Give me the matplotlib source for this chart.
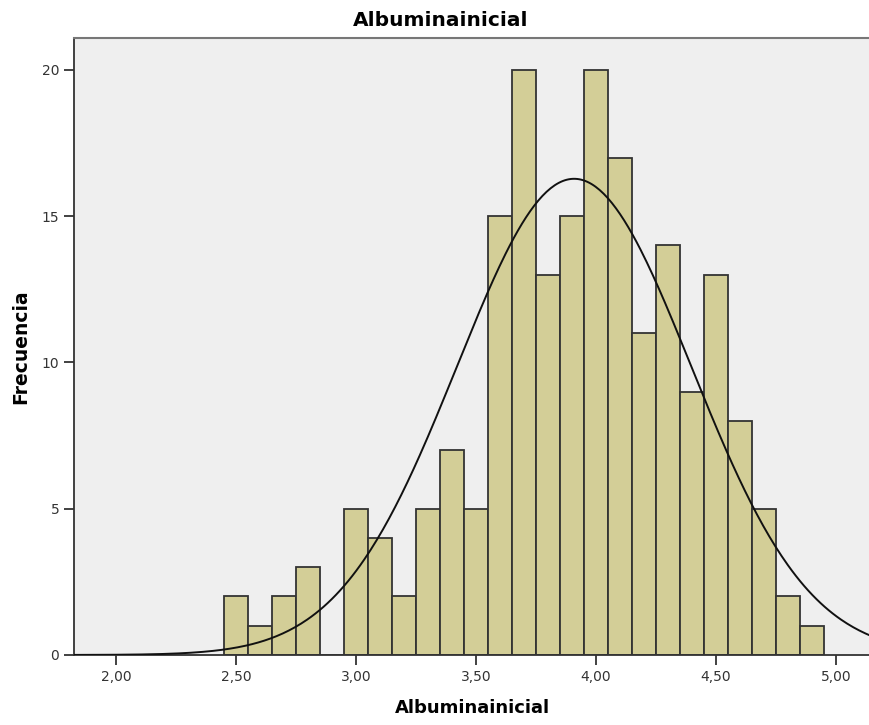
import numpy as np
import matplotlib.pyplot as plt
from matplotlib.ticker import FuncFormatter

# bin centres (width 0.1) and counts
bin_centers = [2.5, 2.6, 2.7, 2.8, 2.9, 3.0, 3.1, 3.2, 3.3, 3.4, 3.5, 3.6, 3.7,
               3.8, 3.9, 4.0, 4.1, 4.2, 4.3, 4.4, 4.5, 4.6, 4.7, 4.8, 4.9]
counts = [2, 1, 2, 3, 0, 5, 4, 2, 5, 7, 5, 15, 20,
          13, 15, 20, 17, 11, 14, 9, 13, 8, 5, 2, 1]
bin_width = 0.1
x_ticks = [2.0, 2.5, 3.0, 3.5, 4.0, 4.5, 5.0]
y_ticks = [0, 5, 10, 15, 20]

centers = np.array(bin_centers)
n = np.array(counts)
total = n.sum()
mean = (centers * n).sum() / total
sd = np.sqrt((n * (centers - mean) ** 2).sum() / (total - 1))

fig = plt.figure(figsize=(8.7, 7.25), dpi=100)
ax = fig.add_axes([0.085, 0.0966, 0.915, 0.851])
ax.set_facecolor('#efefef')

ax.bar(centers, n, width=bin_width, color='#d3ce97', edgecolor='#333333',
       linewidth=1.3, zorder=2)

# normal curve scaled to the histogram
xs = np.linspace(1.8, 5.2, 400)
curve = total * bin_width / (sd * np.sqrt(2 * np.pi)) * np.exp(-0.5 * ((xs - mean) / sd) ** 2)
ax.plot(xs, curve, color='#111111', linewidth=1.4, zorder=3)

ax.set_xlim(1.825, 5.142)
ax.set_ylim(0, 21.09)
ax.set_xticks(x_ticks)
ax.set_yticks(y_ticks)
ax.xaxis.set_major_formatter(FuncFormatter(lambda v, p: f'{v:.2f}'.replace('.', ',')))
ax.tick_params(axis='both', direction='out', length=7, width=1.3, color='#333333',
               labelsize=10, labelcolor='#333333')

for side in ['left', 'bottom']:
    ax.spines[side].set_color('#333333')
    ax.spines[side].set_linewidth(1.3)
ax.spines['top'].set_color('#777777')
ax.spines['top'].set_linewidth(1.5)
ax.spines['right'].set_visible(False)

fig.text(0.507, 0.972, 'Albuminainicial', fontsize=14.5, fontweight='bold',
         ha='center', va='center')
ax.set_xlabel('Albuminainicial', fontsize=13, fontweight='bold', labelpad=11)
ax.set_ylabel('Frecuencia', fontsize=13.5, fontweight='bold', labelpad=8)

fig.savefig('out.png', dpi=100)
